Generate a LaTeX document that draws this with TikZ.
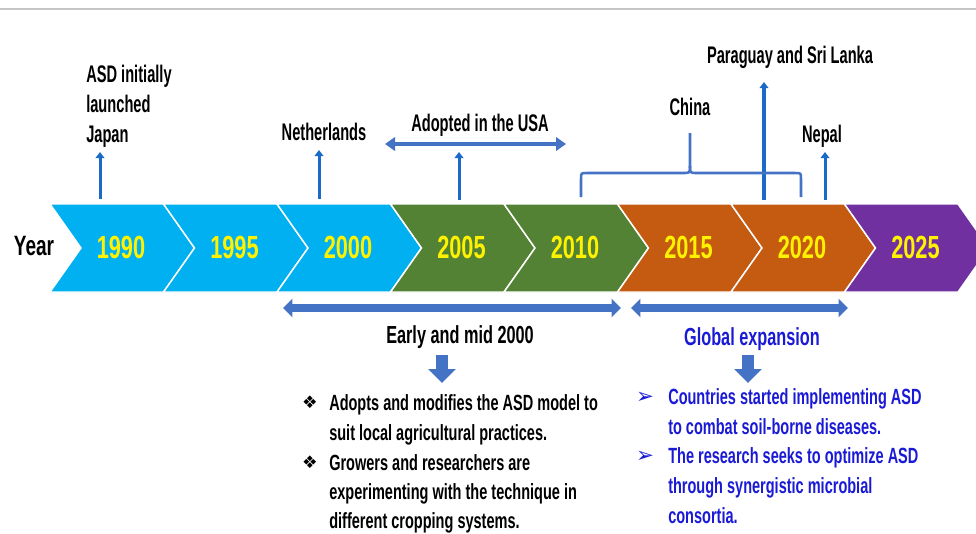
\documentclass[tikz,border=0pt]{standalone}
\usepackage{fontspec}
\setmainfont{Liberation Sans}
\newfontfamily\topfont{Liberation Sans}[FakeStretch=0.61]
\newfontfamily\botfont{Liberation Sans}[FakeStretch=0.66]
\newfontfamily\yrfont{Liberation Sans}[FakeStretch=0.68]
\newfontfamily\symfont{DejaVu Sans}
\usetikzlibrary{arrows.meta}
\definecolor{cy}{HTML}{00B0F0}
\definecolor{gr}{HTML}{548235}
\definecolor{orng}{HTML}{C55A11}
\definecolor{purp}{HTML}{7030A0}
\definecolor{arr}{HTML}{1A6BC8}
\definecolor{harr}{HTML}{4472C4}
\definecolor{gtext}{HTML}{1A1AD6}
\tikzset{
  yr/.style={anchor=base, text=yellow, font=\yrfont\bfseries\fontsize{24}{24}\selectfont, inner sep=0pt},
  toplbl/.style={anchor=base, font=\topfont\bfseries\fontsize{18}{18}\selectfont, inner sep=0pt},
  botlbl/.style={anchor=base west, font=\botfont\bfseries\fontsize{16.5}{16.5}\selectfont, inner sep=0pt},
  headlbl/.style={anchor=base, font=\botfont\bfseries\fontsize{18.5}{18.5}\selectfont, inner sep=0pt},
  bul/.style={anchor=base, font=\symfont\fontsize{13}{13}\selectfont, inner sep=0pt},
  varr/.style={draw=arr, line width=2.25pt, -{Triangle[length=4.5pt,width=6.5pt]}},
  harrow/.style={draw=harr, line width=3.5pt, {Triangle[length=7.5pt,width=10pt]}-{Triangle[length=7.5pt,width=10pt]}},
  barr/.style={draw=harr, line width=6pt, {Triangle[length=7pt,width=13.5pt]}-{Triangle[length=7pt,width=13.5pt]}},
  dnarr/.style={draw=harr, line width=9pt, -{Triangle[length=10.5pt,width=20.25pt]}},
  bracestyle/.style={draw=harr, line width=1.9pt},
}
\begin{document}
\begin{tikzpicture}[x=0.75pt,y=-0.75pt]
\useasboundingbox (0,0) rectangle (976,533);
\clip (0,0) rectangle (976,533);
\draw[gray!45, line width=0.9pt] (0,9) -- (976,9);
% chevrons
\foreach \i/\c in {0/cy,1/cy,2/cy,3/gr,4/gr,5/orng,6/orng,7/purp}{
  \pgfmathsetmacro\L{50+113.5*\i}
  \filldraw[fill=\c, draw=white, line width=1.1pt] (\L,204) -- ++(113.5,0) -- ++(31,44) -- ++(-31,44) -- ++(-113.5,0) -- ++(31,-44) -- cycle;
}
\foreach \i/\yy in {0/1990,1/1995,2/2000,3/2005,4/2010,5/2015,6/2020,7/2025}{
  \node[yr] (y\yy) at ({121+113.5*\i},258) {\yy};
}
\node[anchor=base, font=\yrfont\bfseries\fontsize{21}{21}\selectfont, inner sep=0pt] (yearlbl) at (34,255) {Year};
% top labels
\node[toplbl, anchor=base west] (asd1) at (86,82) {ASD initially};
\node[toplbl, anchor=base west] (asd2) at (86,112) {launched};
\node[toplbl, anchor=base west] (asd3) at (86,142) {Japan};
\node[toplbl] (neth) at (324,140) {Netherlands};
\node[toplbl] (usa) at (480,131) {Adopted in the USA};
\node[toplbl] (china) at (690,115) {China};
\node[toplbl] (para) at (790,63) {Paraguay and Sri Lanka};
\node[toplbl] (nepal) at (822,142) {Nepal};
% vertical arrows
\coordinate (jS) at (100,199); \coordinate (jE) at (100,152);
\coordinate (nS) at (319,199); \coordinate (nE) at (319,150);
\coordinate (uS) at (459,200); \coordinate (uE) at (459,152);
\coordinate (pS) at (764,200); \coordinate (pE) at (764,82);
\coordinate (npS) at (825,200); \coordinate (npE) at (825,152);
\draw[varr] (jS) -- (jE);
\draw[varr] (nS) -- (nE);
\draw[varr] (uS) -- (uE);
\draw[varr, line width=3pt] (pS) -- (pE);
\draw[varr] (npS) -- (npE);
% USA span arrow
\coordinate (uL) at (385,144); \coordinate (uR) at (566,144);
\draw[harrow] (uL) -- (uR);
% brace for China
\coordinate (bL) at (581,197); \coordinate (bR) at (801,197); \coordinate (bT) at (690,133);
\draw[bracestyle] (bL) -- (581,179) .. controls (581,173) .. (587,173) -- (683,173) .. controls (690,173) .. (690,166) -- (bT);
\draw[bracestyle] (bR) -- (801,179) .. controls (801,173) .. (795,173) -- (697,173) .. controls (690,173) .. (690,166);
% bottom spans
\coordinate (s1L) at (283,308); \coordinate (s1R) at (621,308);
\coordinate (s2L) at (631,308); \coordinate (s2R) at (848,308);
\draw[barr] (s1L) -- (s1R);
\draw[barr] (s2L) -- (s2R);
% bottom left block
\node[headlbl] (early) at (460,343) {Early and mid 2000};
\coordinate (d1S) at (442,355); \coordinate (d1E) at (442,383);
\draw[dnarr] (d1S) -- (d1E);
\node[bul] (lb1) at (310,408) {❖};
\node[bul] (lb2) at (310,468) {❖};
\node[botlbl] (l1) at (329,410) {Adopts and modifies the ASD model to};
\node[botlbl] (l2) at (329,440) {suit local agricultural practices.};
\node[botlbl] (l3) at (329,470) {Growers and researchers are};
\node[botlbl] (l4) at (329,499) {experimenting with the technique in};
\node[botlbl] (l5) at (329,528) {different cropping systems.};
% bottom right block
\node[headlbl, text=gtext] (glob) at (752,345) {Global expansion};
\coordinate (d2S) at (748,355); \coordinate (d2E) at (748,383);
\draw[dnarr] (d2S) -- (d2E);
\node[bul, text=gtext, font=\symfont\fontsize{16}{16}\selectfont] (rb1) at (645,403) {➢};
\node[bul, text=gtext, font=\symfont\fontsize{16}{16}\selectfont] (rb2) at (645,462) {➢};
\node[botlbl, text=gtext] (r1) at (668,404) {Countries started implementing ASD};
\node[botlbl, text=gtext] (r2) at (668,434) {to combat soil-borne diseases.};
\node[botlbl, text=gtext] (r3) at (668,463) {The research seeks to optimize ASD};
\node[botlbl, text=gtext] (r4) at (668,493) {through synergistic microbial};
\node[botlbl, text=gtext] (r5) at (668,523) {consortia.};
\end{tikzpicture}
\end{document}
